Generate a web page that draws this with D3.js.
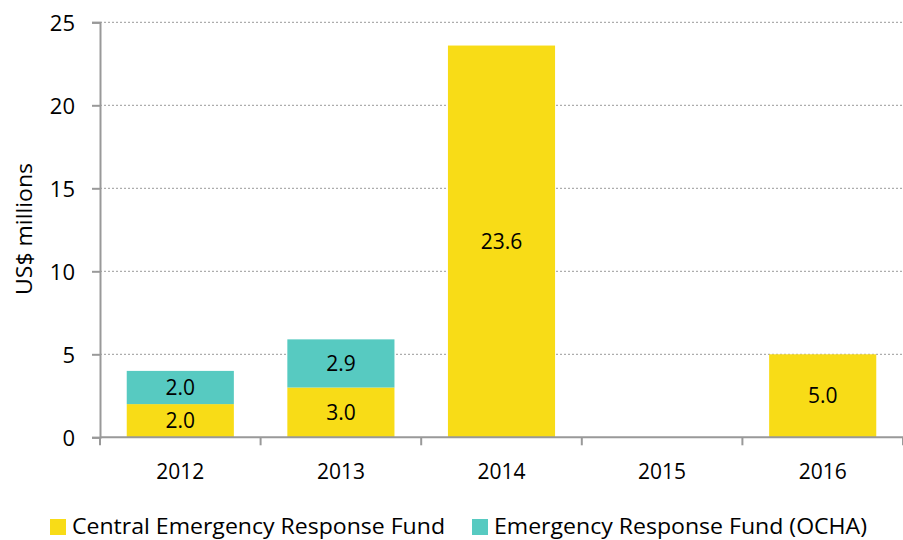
<!DOCTYPE html>
<html><head><meta charset="utf-8">
<script src="https://cdn.jsdelivr.net/npm/d3@7"></script>
<style>body{margin:0;background:#fff}svg{display:block}text{font-family:"Open Sans",sans-serif;fill:#000}</style>
</head><body>
<svg id="c" width="903" height="540"></svg>
<script>
const years = ["2012","2013","2014","2015","2016"];
const cerf = [2.0, 3.0, 23.6, 0, 5.0];
const erf = [2.0, 2.9, 0, 0, 0];
const seriesNames = ["Central Emergency Response Fund","Emergency Response Fund (OCHA)"];
const colors = ["#F8DC17","#57CAC1"];
const yTicks = [0,5,10,15,20,25];

const svg = d3.select("#c");
const L = 100, R = 903, T = 22.3, B = 437.3;
const x = d3.scaleBand().domain(years).range([L, R]).paddingInner(0.333).paddingOuter(0.1665);
const y = d3.scaleLinear().domain([0,25]).range([B, T]);

// gridlines
svg.append("g").selectAll("line").data(yTicks.filter(d=>d>0)).join("line")
  .attr("x1", L).attr("x2", R).attr("y1", d=>y(d)).attr("y2", d=>y(d))
  .attr("stroke", "#999").attr("stroke-width", 1).attr("stroke-dasharray", "2,2");

const data = years.map((yr,i)=>({yr, a:cerf[i], b:erf[i]}));
const stack = d3.stack().keys(["a","b"])(data);
const g = svg.append("g");
stack.forEach((s, k) => {
  g.append("g").selectAll("rect").data(s.filter(d=>d[1]-d[0]>0)).join("rect")
    .attr("x", d=>x(d.data.yr)).attr("width", x.bandwidth())
    .attr("y", d=>y(d[1])).attr("height", d=>y(d[0])-y(d[1]))
    .attr("fill", colors[k]);
  g.append("g").selectAll("text").data(s.filter(d=>d[1]-d[0]>0)).join("text")
    .attr("x", d=>x(d.data.yr)+x.bandwidth()/2)
    .attr("y", d=>(y(d[0])+y(d[1]))/2)
    .attr("dy", "0.36em").attr("text-anchor","middle")
    .style("font-size","21px")
    .text(d=>(d[1]-d[0]).toFixed(1));
});

// y axis
const ya = svg.append("g").attr("transform", `translate(${L},0)`)
  .call(d3.axisLeft(y).tickValues(yTicks).tickSize(8).tickPadding(17));
ya.select(".domain").attr("stroke","#999").attr("stroke-width",2);
ya.selectAll(".tick line").attr("stroke","#999").attr("stroke-width",2);
ya.selectAll(".tick text").style("font-size","22px").style("font-family","'Open Sans',sans-serif").attr("fill","#000").attr("dy","0.36em");

// x axis
const xa = svg.append("g").attr("transform", `translate(0,${B})`)
  .call(d3.axisBottom(x).tickSize(0).tickPadding(0));
xa.select(".domain").attr("stroke","#999").attr("stroke-width",2).attr("d", `M${L},0H${R}`);
xa.selectAll(".tick text").style("font-size","21px").style("font-family","'Open Sans',sans-serif").attr("fill","#000")
  .attr("dy",null).attr("y", 479-B);
const bounds = years.map(d=>x(d)-x.step()*x.paddingInner()/2);
bounds.push(R);
xa.append("g").selectAll("line").data(bounds).join("line")
  .attr("x1", d=>d).attr("x2", d=>d).attr("y1",0).attr("y2",8)
  .attr("stroke","#999").attr("stroke-width",2);

// y title
svg.append("text").attr("transform","translate(32,229) rotate(-90)")
  .attr("text-anchor","middle").style("font-size","21px")
  .attr("textLength",132).attr("lengthAdjust","spacingAndGlyphs").text("US$ millions");

// legend
const leg = [{x:50, tx:72, w:373},{x:472, tx:494, w:373}];
seriesNames.forEach((n,i)=>{
  svg.append("rect").attr("x",leg[i].x).attr("y",519).attr("width",16).attr("height",16).attr("fill",colors[i]);
  svg.append("text").attr("x",leg[i].tx).attr("y",533.5).style("font-size","22px")
    .attr("textLength", leg[i].w).attr("lengthAdjust","spacingAndGlyphs").text(n);
});
</script>
</body></html>
